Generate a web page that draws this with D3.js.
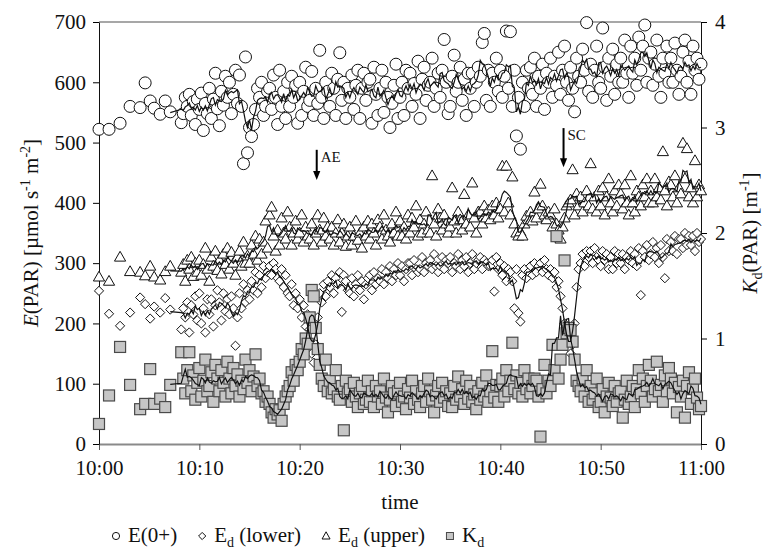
<!DOCTYPE html>
<html>
<head>
<meta charset="utf-8">
<script src="https://cdn.jsdelivr.net/npm/d3@7"></script>
<style>
  body { margin: 0; background: #fff; }
  svg, svg text { font-family: "Liberation Serif", "DejaVu Serif", serif; }
</style>
</head>
<body>
<div id="chart"></div>
<script>
// time in minutes after 10:00
var times = [0,1,2.1,3.1,4.1,4.6,5.1,5.5,6.1,6.6,7.1,
  8.2,8.4,8.6,8.8,
  9,9.2,9.4,9.6,9.8, 10,10.2,10.4,10.6,10.8, 11,11.2,11.4,11.6,11.8, 12,12.2,12.4,12.6,12.8,
  13,13.2,13.4,13.6,13.8, 14,14.2,14.4,14.6,14.8, 15,15.2,15.4,15.6,15.8, 16,16.2,16.4,16.6,16.8,
  17,17.2,17.4,17.6,17.8, 18,18.2,18.4,18.6,18.8, 19,19.2,19.4,19.6,19.8, 20,20.2,20.4,20.6,20.8,
  21,21.2,21.4,21.6,21.8, 22,22.2,22.4,22.6,22.8, 23,23.2,23.4,23.6,23.8, 24,24.2,24.4,24.6,24.8,
  25,25.2,25.4,25.6,25.8, 26,26.2,26.4,26.6,26.8, 27,27.2,27.4,27.6,27.8, 28,28.2,28.4,28.6,28.8,
  29,29.2,29.4,29.6,29.8, 30,30.2,30.4,30.6,30.8, 31,31.2,31.4,31.6,31.8, 32,32.2,32.4,32.6,32.8,
  33,33.2,33.4,33.6,33.8, 34,34.2,34.4,34.6,34.8, 35,35.2,35.4,35.6,35.8, 36,36.2,36.4,36.6,36.8,
  37,37.2,37.4,37.6,37.8, 38,38.2,38.4,38.6,38.8, 39,39.2,39.4,39.6,39.8, 40,40.2,40.4,40.6,40.8,
  41,41.2,41.4,41.6,41.8, 42,42.2,42.4,42.6,42.8, 43,43.2,43.4,43.6,43.8, 44,44.2,44.4,44.6,44.8,
  45,45.2,45.4,45.6,45.8, 46,46.2,46.4,46.6,46.8, 47,47.2,47.4,47.6,47.8, 48,48.2,48.4,48.6,48.8,
  49,49.2,49.4,49.6,49.8, 50,50.2,50.4,50.6,50.8, 51,51.2,51.4,51.6,51.8, 52,52.2,52.4,52.6,52.8,
  53,53.2,53.4,53.6,53.8, 54,54.2,54.4,54.6,54.8, 55,55.2,55.4,55.6,55.8, 56,56.2,56.4,56.6,56.8,
  57,57.2,57.4,57.6,57.8, 58,58.2,58.4,58.6,58.8, 59,59.2,59.4,59.6,59.8, 60];

// E(0+) [umol s-1 m-2]
var eSurface = [522,522,532,560,558,599,569,557,547,569,551,
  533,548,575,560,
  580,545,568,530,572, 555,582,520,565,548, 590,540,572,615,556, 528,585,562,610,575,
  600,548,580,620,565, 612,560,465,642,483, 525,510,530,555,590, 575,600,545,560,585,
  590,555,612,575,530, 620,560,585,540,600, 560,610,575,595,532, 600,545,585,625,560,
  570,618,545,590,565, 653,575,540,600,585, 560,615,590,545,605, 649,570,600,540,590,
  575,612,555,595,620, 540,590,615,570,600, 605,532,625,580,545, 590,620,550,600,575,
  525,565,595,630,540, 575,600,545,620,590, 615,560,598,580,635, 540,605,625,570,595,
  600,640,560,590,615, 575,620,671,600,548, 560,610,645,585,600, 625,570,605,545,615,
  590,615,560,600,625, 610,666,681,570,620, 560,615,600,640,585, 620,575,610,685,590,
  684,560,620,511,575, 489,600,560,620,590, 625,580,640,560,610, 590,630,555,615,600,
  640,575,610,595,650, 580,620,660,600,570, 625,590,551,640,610, 600,655,620,699,585,
  630,575,620,660,600, 590,690,625,570,640, 610,655,580,630,600, 640,600,670,615,575,
  660,615,640,595,675, 620,660,695,600,640, 650,595,630,670,610, 575,640,615,660,600,
  640,600,665,620,580, 610,650,670,600,635, 580,660,620,640,605, 630];

// Ed (lower)
var edLower = [254,216,196,218,243,232,208,228,218,242,223,
  190,225,210,235,
  185,230,215,245,205, 250,200,225,185,240, 215,240,195,230,255, 235,205,250,220,240,
  215,245,225,163,210, 250,225,265,235,255, 240,270,255,285,250, 280,260,295,275,285,
  295,280,300,290,275, 270,290,260,280,250, 245,265,230,250,225, 240,210,230,195,215,
  190,150,135,165,210, 250,235,265,245,270, 260,280,250,275,265, 285,219,280,270,255,
  250,275,245,265,280, 255,270,240,265,275, 280,255,285,265,275, 270,290,265,285,275,
  295,270,290,280,300, 280,295,270,290,300, 300,280,305,290,285, 290,310,285,300,295,
  305,290,315,295,285, 295,310,290,305,300, 310,285,300,295,315, 290,305,295,310,285,
  300,315,290,300,305, 310,290,305,300,295, 295,305,253,310,290, 300,280,295,270,290,
  285,270,225,290,217, 203,280,290,275,285, 295,280,300,285,295, 300,285,305,290,280,
  290,275,285,260,270, 245,225,200,175,160, 150,165,200,260,290, 300,315,295,320,310,
  320,300,325,310,305, 295,320,305,315,290, 310,290,320,300,315, 300,315,290,310,305,
  320,300,315,295,325, 247,320,310,330,305, 315,335,310,325,300, 330,310,275,340,320,
  335,320,345,315,340, 340,325,350,330,345, 330,345,320,350,335, 340];

// Ed (upper)
var edUpper = [277,270,310,286,285,279,295,277,272,286,295,
  285,298,270,305,
  290,310,278,300,285, 305,280,298,325,290, 270,310,295,320,288, 305,282,315,298,325,
  290,318,300,280,310, 320,295,335,300,312, 300,330,315,345,305, 340,315,335,370,325,
  380,393,345,320,355, 330,375,350,340,385, 360,330,350,370,340, 350,380,335,360,345,
  340,365,330,350,380, 355,335,375,345,360, 340,360,330,350,372, 335,350,365,328,345,
  360,330,345,370,338, 350,325,360,345,370, 340,365,350,330,372, 360,340,380,355,345,
  335,365,350,385,345, 370,345,360,340,380, 350,375,360,395,345, 372,350,365,385,355,
  350,445,365,345,390, 375,355,380,365,350, 360,425,370,350,385, 372,355,414,365,380,
  360,433,375,350,385, 385,365,395,375,388, 372,395,380,400,375, 390,461,385,461,400,
  380,443,365,350,345, 352,345,365,378,372, 385,370,418,375,390, 431,395,380,372,385,
  380,360,390,365,355, 340,360,375,395,400, 405,455,380,415,395, 410,385,400,420,395,
  465,390,410,385,420, 395,425,380,410,440, 400,385,420,395,430, 415,390,430,400,380,
  445,400,385,420,410, 395,430,410,440,400, 420,400,440,410,425, 405,485,420,395,435,
  430,410,445,400,425, 415,499,440,490,410, 425,400,470,410,430, 420];

// Kd(PAR) [m-1]
var kd = [0.19,0.46,0.92,0.56,0.33,0.38,0.71,0.38,0.43,0.35,0.56,
  0.87,0.62,0.48,0.70,
  0.87,0.50,0.65,0.42,0.58, 0.72,0.45,0.60,0.80,0.50, 0.55,0.68,0.40,0.75,0.62, 0.50,0.70,0.58,0.45,0.78,
  0.62,0.48,0.72,0.55,0.66, 0.45,0.60,0.52,0.80,0.58, 0.70,0.50,0.64,0.85,0.55, 0.62,0.48,0.50,0.40,0.45,
  0.38,0.30,0.25,0.33,0.28, 0.32,0.22,0.38,0.45,0.50, 0.55,0.68,0.60,0.75,0.70, 0.78,0.90,0.85,1.00,0.95,
  1.20,1.46,1.40,1.10,0.90, 0.75,0.62,0.55,0.80,0.50, 0.60,0.48,0.52,0.70,0.45, 0.42,0.55,0.13,0.60,0.48,
  0.52,0.40,0.58,0.45,0.35, 0.48,0.55,0.38,0.42,0.60, 0.40,0.50,0.35,0.55,0.45, 0.50,0.38,0.62,0.44,0.30,
  0.42,0.55,0.48,0.36,0.50, 0.58,0.40,0.45,0.33,0.52, 0.44,0.60,0.38,0.50,0.42, 0.35,0.48,0.55,0.40,0.62,
  0.50,0.42,0.30,0.46,0.55, 0.40,0.58,0.44,0.50,0.36, 0.48,0.35,0.55,0.42,0.64, 0.45,0.52,0.38,0.60,0.43,
  0.55,0.40,0.47,0.33,0.50, 0.42,0.58,0.45,0.65,0.40, 0.50,0.88,0.44,0.56,0.40, 0.55,0.62,0.45,0.70,0.50,
  0.60,0.96,0.52,0.65,0.48, 0.58,0.45,0.70,0.52,0.62, 0.48,0.55,0.62,0.60,0.45, 0.07,0.52,0.75,0.48,0.60,
  0.55,0.94,0.70,1.97,0.62, 0.80,0.94,1.74,1.05,1.10, 1.08,0.97,0.80,0.60,0.55, 0.50,0.62,0.45,0.70,0.40,
  0.55,0.42,0.48,0.62,0.35, 0.40,0.52,0.30,0.45,0.58, 0.44,0.36,0.55,0.40,0.48, 0.50,0.25,0.42,0.60,0.38,
  0.45,0.55,0.35,0.52,0.70, 0.48,0.62,0.40,0.55,0.75, 0.60,0.45,0.52,0.78,0.50, 0.56,0.40,0.65,0.50,0.72,
  0.62,0.48,0.58,0.30,0.54, 0.45,0.60,0.25,0.55,0.68, 0.38,0.52,0.62,0.44,0.33, 0.36];

var timeTicks = [0, 10, 20, 30, 40, 50, 60];
var timeLabels = ["10:00", "10:10", "10:20", "10:30", "10:40", "10:50", "11:00"];
var eTicks = [0, 100, 200, 300, 400, 500, 600, 700];
var kdTicks = [0, 1, 2, 3, 4];

// events: time, arrow top and tip in E units
var events = [
  {label: "AE", t: 21.7, top: 488, tip: 438},
  {label: "SC", t: 46.3, top: 524, tip: 459}
];

[eSurface, edLower, edUpper, kd].forEach(function(a) {
  if (a.length !== times.length) console.error("length mismatch", a.length, times.length);
});

var serif = "Liberation Serif, DejaVu Serif, serif";
var svgWidth = 764;
var svgHeight = 549;
var margin = {top: 22, right: 63, bottom: 105, left: 99};
var chartWidth = svgWidth - margin.left - margin.right;
var chartHeight = svgHeight - margin.top - margin.bottom;

var svg = d3.select("#chart")
    .append("svg")
    .attr("width", svgWidth)
    .attr("height", svgHeight)
    .attr("font-family", serif);

var chartGroup = svg.append("g")
    .attr("transform", `translate(${margin.left}, ${margin.top})`);

var xScale = d3.scaleLinear().domain([0, 60]).range([0, chartWidth]);
var yLeft = d3.scaleLinear().domain([0, 700]).range([chartHeight, 0]);
var yRight = d3.scaleLinear().domain([0, 4]).range([chartHeight, 0]);

// top frame line
chartGroup.append("line")
    .attr("x1", 0).attr("x2", chartWidth)
    .attr("y1", 0).attr("y2", 0)
    .attr("stroke", "#8a8a8a")
    .attr("stroke-width", 1.5);

function styleAxis(g) {
  g.attr("font-family", serif).attr("font-size", 21);
  g.selectAll("text").attr("fill", "#111").attr("font-family", serif);
}

var xAxis = d3.axisBottom(xScale)
    .tickValues(timeTicks)
    .tickFormat(function(d, i) { return timeLabels[i]; })
    .tickSize(6).tickSizeOuter(0).tickPadding(10);

var xg = chartGroup.append("g")
    .attr("transform", `translate(0, ${chartHeight})`)
    .call(xAxis)
    .call(styleAxis);
xg.select(".domain").attr("stroke", "#8a8a8a").attr("stroke-width", 2);
xg.selectAll(".tick line").attr("stroke", "#555");

var yg = chartGroup.append("g")
    .call(d3.axisLeft(yLeft).tickValues(eTicks).tickFormat(d3.format("d"))
      .tickSize(6).tickSizeOuter(0).tickPadding(7))
    .call(styleAxis);
yg.select(".domain").attr("stroke", "#111");

var rg = chartGroup.append("g")
    .attr("transform", `translate(${chartWidth}, 0)`)
    .call(d3.axisRight(yRight).tickValues(kdTicks).tickFormat(d3.format("d"))
      .tickSize(6).tickSizeOuter(0).tickPadding(8))
    .call(styleAxis);
rg.select(".domain").attr("stroke", "#111");

var pts = times.map(function(t, i) {
  return {t: t, e0: eSurface[i], lo: edLower[i], up: edUpper[i], kd: kd[i]};
});

var diamondPath = "M0,-4.6L4.6,0L0,4.6L-4.6,0Z";
var trianglePath = "M0,-5.8L5.6,4L-5.6,4Z";

// E(0+) circles
chartGroup.append("g").selectAll("circle")
    .data(pts).enter().append("circle")
    .attr("cx", function(d) { return xScale(d.t); })
    .attr("cy", function(d) { return yLeft(d.e0); })
    .attr("r", 6)
    .attr("fill", "#fff")
    .attr("stroke", "#111")
    .attr("stroke-width", 1);

// Ed upper triangles
chartGroup.append("g").selectAll("path")
    .data(pts).enter().append("path")
    .attr("d", trianglePath)
    .attr("transform", function(d) { return `translate(${xScale(d.t)}, ${yLeft(d.up)})`; })
    .attr("fill", "#fff")
    .attr("stroke", "#111")
    .attr("stroke-width", 1);

// Ed lower diamonds
chartGroup.append("g").selectAll("path")
    .data(pts).enter().append("path")
    .attr("d", diamondPath)
    .attr("transform", function(d) { return `translate(${xScale(d.t)}, ${yLeft(d.lo)})`; })
    .attr("fill", "#fff")
    .attr("stroke", "#111")
    .attr("stroke-width", 1);

// Kd squares
chartGroup.append("g").selectAll("rect")
    .data(pts).enter().append("rect")
    .attr("x", function(d) { return xScale(d.t) - 5.5; })
    .attr("y", function(d) { return yRight(d.kd) - 5.5; })
    .attr("width", 11).attr("height", 11)
    .attr("fill", "#c6c6c6")
    .attr("stroke", "#4a4a4a")
    .attr("stroke-width", 1.2);

// running means drawn over the points
function runningMean(vals, half) {
  return vals.map(function(v, i) {
    return d3.mean(vals.slice(Math.max(0, i - half), i + half + 1));
  });
}

function drawMean(vals, yScale) {
  var sm = runningMean(vals, 2);
  var lineData = times.map(function(t, i) { return {t: t, v: sm[i]}; })
      .filter(function(d) { return d.t >= 7; });
  chartGroup.append("path")
      .datum(lineData)
      .attr("fill", "none")
      .attr("stroke", "#111")
      .attr("stroke-width", 1.2)
      .attr("d", d3.line()
        .x(function(d) { return xScale(d.t); })
        .y(function(d) { return yScale(d.v); }));
}
drawMean(eSurface, yLeft);
drawMean(edUpper, yLeft);
drawMean(edLower, yLeft);
drawMean(kd, yRight);

// event arrows
events.forEach(function(ev) {
  var ex = xScale(ev.t), y0 = yLeft(ev.top), y1 = yLeft(ev.tip);
  chartGroup.append("line")
      .attr("x1", ex).attr("x2", ex)
      .attr("y1", y0).attr("y2", y1 - 7)
      .attr("stroke", "#000").attr("stroke-width", 2);
  chartGroup.append("path")
      .attr("d", `M${ex - 3.6},${y1 - 9}L${ex + 3.6},${y1 - 9}L${ex},${y1}Z`)
      .attr("fill", "#000");
  chartGroup.append("text")
      .attr("x", ex + 4).attr("y", y0 + 12)
      .attr("font-size", 15)
      .attr("font-family", serif)
      .attr("fill", "#111")
      .text(ev.label);
});

// axis titles
svg.append("text")
    .attr("x", margin.left + chartWidth / 2)
    .attr("y", 509)
    .attr("text-anchor", "middle")
    .attr("font-size", 21)
    .attr("font-family", serif)
    .attr("fill", "#111")
    .text("time");

var leftTitle = svg.append("text")
    .attr("transform", `translate(38, ${margin.top + chartHeight / 2}) rotate(-90)`)
    .attr("text-anchor", "middle")
    .attr("font-size", 21)
    .attr("font-family", serif)
    .attr("fill", "#111");
leftTitle.append("tspan").attr("font-style", "italic").text("E");
leftTitle.append("tspan").text("(PAR) [µmol s");
leftTitle.append("tspan").attr("dy", -8).attr("font-size", 14).text("-1");
leftTitle.append("tspan").attr("dy", 8).text(" m");
leftTitle.append("tspan").attr("dy", -8).attr("font-size", 14).text("-2");
leftTitle.append("tspan").attr("dy", 8).text("]");

var rightTitle = svg.append("text")
    .attr("transform", `translate(757, ${margin.top + chartHeight / 2}) rotate(-90)`)
    .attr("text-anchor", "middle")
    .attr("font-size", 21)
    .attr("font-family", serif)
    .attr("fill", "#111");
rightTitle.append("tspan").attr("font-style", "italic").text("K");
rightTitle.append("tspan").attr("dy", 5).attr("font-size", 14).text("d");
rightTitle.append("tspan").attr("dy", -5).text("(PAR) [m");
rightTitle.append("tspan").attr("dy", -8).attr("font-size", 14).text("-1");
rightTitle.append("tspan").attr("dy", 8).text("]");

// legend
var legendItems = [
  {kind: "circle", main: "E(0+)", sub: ""},
  {kind: "diamond", main: "E", sub: "d", rest: " (lower)"},
  {kind: "triangle", main: "E", sub: "d", rest: " (upper)"},
  {kind: "square", main: "K", sub: "d", rest: ""}
];
var legendY = 542;
var lx = 116;
legendItems.forEach(function(item) {
  var my = legendY - 6;
  if (item.kind === "circle") {
    svg.append("circle").attr("cx", lx).attr("cy", my).attr("r", 3.6)
        .attr("fill", "#fff").attr("stroke", "#111").attr("stroke-width", 1);
  } else if (item.kind === "diamond") {
    svg.append("path").attr("d", "M0,-3.6L3.6,0L0,3.6L-3.6,0Z")
        .attr("transform", `translate(${lx}, ${my})`)
        .attr("fill", "#fff").attr("stroke", "#111").attr("stroke-width", 1);
  } else if (item.kind === "triangle") {
    svg.append("path").attr("d", "M0,-4.2L4,3L-4,3Z")
        .attr("transform", `translate(${lx}, ${my})`)
        .attr("fill", "#fff").attr("stroke", "#111").attr("stroke-width", 1);
  } else {
    svg.append("rect").attr("x", lx - 3.5).attr("y", my - 3.5)
        .attr("width", 7).attr("height", 7)
        .attr("fill", "#c6c6c6").attr("stroke", "#4a4a4a").attr("stroke-width", 1);
  }
  var t = svg.append("text")
      .attr("x", lx + 12).attr("y", legendY)
      .attr("font-size", 21)
      .attr("font-family", serif)
      .attr("fill", "#111");
  t.append("tspan").text(item.main);
  if (item.sub) {
    t.append("tspan").attr("dy", 5).attr("font-size", 14).text(item.sub);
    if (item.rest) t.append("tspan").attr("dy", -5).text(item.rest);
  }
  lx = lx + 12 + t.node().getComputedTextLength() + 25;
});
</script>
</body>
</html>
